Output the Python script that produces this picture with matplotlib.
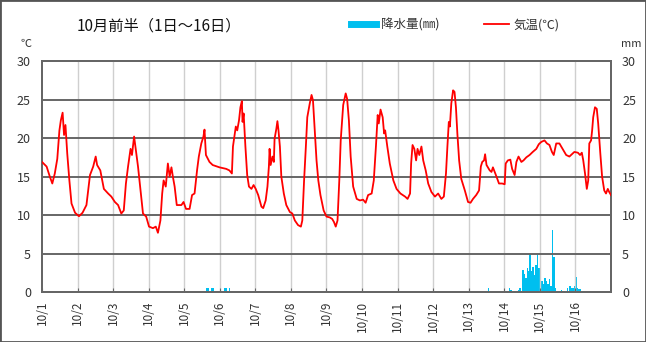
"""Hourly temperature and precipitation, first half of October."""
import matplotlib
matplotlib.use("Agg")
import matplotlib.pyplot as plt
from matplotlib.lines import Line2D
from matplotlib.patches import Rectangle

plt.rcParams["font.family"] = ["Noto Sans CJK JP", "DejaVu Sans"]

# temperature (day offset from 10/1 0:00, degC)
temp_day = [
    0.00, 0.13, 0.22, 0.29, 0.36, 0.43, 0.49, 0.53, 0.58, 0.62, 0.66, 0.71, 0.77, 0.83, 0.93,
    1.04, 1.14, 1.25, 1.35, 1.44, 1.51, 1.55, 1.64, 1.74, 1.86, 1.95,
    2.05, 2.14, 2.23, 2.30, 2.36, 2.42, 2.49, 2.53, 2.59, 2.64, 2.70, 2.77, 2.84, 2.93,
    3.01, 3.12, 3.20, 3.26, 3.33, 3.38, 3.42, 3.48, 3.54, 3.59, 3.64, 3.68, 3.73, 3.79, 3.92, 3.98,
    4.05, 4.15, 4.22, 4.29, 4.36, 4.41, 4.48, 4.54, 4.57, 4.61, 4.71, 4.80, 4.99,
    5.18, 5.27, 5.34, 5.37, 5.45, 5.49, 5.54, 5.58, 5.62, 5.64, 5.67, 5.72, 5.77, 5.82, 5.89, 5.95,
    6.01, 6.08, 6.17, 6.22, 6.29, 6.34, 6.38, 6.40, 6.43, 6.48, 6.52, 6.54, 6.59, 6.62, 6.65, 6.69,
    6.73, 6.80, 6.87, 6.97,
    7.04, 7.11, 7.20, 7.28, 7.32, 7.37, 7.42, 7.46, 7.53, 7.58, 7.62, 7.67, 7.72, 7.77, 7.83, 7.92,
    8.00, 8.09, 8.16, 8.21, 8.26, 8.31, 8.36, 8.40, 8.47, 8.54, 8.58, 8.63, 8.68, 8.75, 8.85, 8.94,
    9.03, 9.10, 9.17, 9.27, 9.33, 9.39, 9.44, 9.47, 9.52, 9.58, 9.62, 9.65, 9.71, 9.78, 9.88, 9.97,
    10.08, 10.21, 10.28, 10.35, 10.38, 10.42, 10.47, 10.52, 10.56, 10.61, 10.67, 10.72, 10.79,
    10.86, 10.95,
    11.05, 11.14, 11.23, 11.30, 11.36, 11.40, 11.44, 11.47, 11.51, 11.56, 11.60, 11.64, 11.68,
    11.73, 11.79, 11.89, 11.98,
    12.05, 12.12, 12.21, 12.29, 12.34, 12.38, 12.43, 12.46, 12.50, 12.59, 12.64, 12.68, 12.78,
    12.85, 12.94,
    13.01, 13.04, 13.10, 13.17, 13.22, 13.29, 13.34, 13.40, 13.48, 13.54, 13.62, 13.71, 13.80,
    13.90, 13.97,
    14.04, 14.13, 14.20, 14.27, 14.34, 14.39, 14.46, 14.55, 14.64, 14.74, 14.83, 14.97,
    15.07, 15.13, 15.18, 15.22, 15.27, 15.32, 15.36, 15.39, 15.44, 15.47, 15.50, 15.55, 15.60,
    15.64, 15.70, 15.75, 15.81, 15.86, 15.91, 15.95, 16.00,
]
temp_c = [
    16.9, 16.3, 15.0, 14.1, 15.4, 17.3, 21.0, 22.3, 23.3, 20.4, 21.7, 18.0, 14.5, 11.5, 10.3,
    9.85, 10.3, 11.3, 15.2, 16.3, 17.6, 16.5, 15.8, 13.4, 12.8, 12.4,
    11.7, 11.3, 10.2, 10.6, 14.1, 16.3, 18.6, 17.8, 20.2, 18.4, 16.3, 13.2, 10.2, 9.8,
    8.5, 8.3, 8.5, 7.7, 9.3, 12.8, 14.5, 13.7, 16.7, 15.0, 16.2, 15.0, 13.7, 11.3, 11.3, 11.7,
    10.8, 10.8, 12.6, 12.8, 15.8, 17.6, 19.3, 20.2, 21.1, 17.8, 16.9, 16.5, 16.2,
    16.0, 15.8, 15.4, 18.9, 21.5, 21.0, 22.3, 24.0, 24.8, 22.1, 23.2, 18.9, 15.2, 13.7, 13.4, 13.9,
    13.4, 12.6, 11.1, 10.9, 11.9, 13.7, 16.3, 18.6, 16.5, 17.6, 16.9, 19.9, 21.2, 22.2, 21.0, 18.9,
    15.0, 12.8, 11.3, 10.4,
    10.2, 9.3, 8.7, 8.5, 9.3, 14.5, 18.9, 22.7, 24.5, 25.6, 24.9, 21.0, 17.1, 14.5, 12.6, 10.6,
    9.8, 9.7, 9.5, 9.1, 8.5, 9.3, 14.5, 19.7, 24.3, 25.8, 25.1, 22.3, 17.6, 13.7, 12.1, 11.9,
    12.0, 11.6, 12.6, 12.8, 14.5, 18.9, 23.0, 21.9, 23.7, 22.7, 20.6, 21.0, 18.9, 16.7, 14.5, 13.4,
    12.8, 12.4, 12.1, 12.8, 16.7, 19.1, 18.6, 17.1, 18.6, 17.8, 18.9, 17.1, 15.8,
    14.1, 13.0,
    12.4, 12.8, 12.1, 12.4, 15.4, 18.9, 22.1, 21.5, 24.5, 26.2, 26.0, 24.0, 20.6,
    17.1, 14.7, 13.2, 11.7,
    11.6, 12.1, 12.6, 13.2, 16.3, 16.9, 17.1, 17.9, 16.5, 15.8, 15.6, 16.2, 15.0,
    14.1, 14.1,
    14.0, 16.7, 17.1, 17.2, 16.0, 15.2, 16.9, 17.6, 16.9, 17.1, 17.5, 17.8, 18.2,
    18.6, 19.2,
    19.5, 19.7, 19.3, 19.1, 18.2, 17.8, 19.3, 19.3, 18.6, 17.8, 17.6, 18.2,
    18.1, 17.8, 18.1, 17.1, 15.4, 13.4, 14.5, 19.3, 19.7, 21.0, 22.7, 24.0, 23.8,
    21.9, 18.0, 15.0, 13.2, 12.8, 13.4, 13.0, 12.6,
]

# precipitation (hour offset from 10/1 0:00, mm)
rain_hour = [
    111, 112, 114, 115, 123, 124, 126,
    301, 315, 316, 321, 322,
    324, 325, 326, 327, 328, 329, 330, 331, 332, 333, 334, 335, 336, 337, 338, 339, 340,
    341, 342, 343, 344, 345, 346,
    350, 354, 356, 357, 358, 359, 360, 361, 362, 363,
]
rain_mm = [
    0.5, 0.5, 0.5, 0.5, 0.5, 0.5, 0.5,
    0.5, 0.5, 0.3, 0.3, 0.5,
    2.9, 2.4, 1.8, 3.1, 2.7, 4.9, 2.7, 3.3, 2.2, 3.5, 4.9, 3.1, 6.5, 1.5, 1.0, 1.8, 1.5,
    1.0, 1.7, 0.8, 8.0, 4.5, 0.5,
    0.3, 0.5, 0.8, 0.5, 0.5, 0.8, 1.9, 0.5, 0.4, 0.4,
]

day_labels = [f"10/{d}" for d in range(1, 17)]
y_ticks = [0, 5, 10, 15, 20, 25, 30]

fig = plt.figure(figsize=(6.46, 3.42), dpi=100)
ax = fig.add_axes([0.065, 0.146, 0.8808, 0.6754])
ax2 = ax.twinx()

text_col = "#333333"
grid_dark = "#666666"

# rain on the right axis, drawn below temperature
rain_day = [h / 24 for h in rain_hour]
ax2.bar(rain_day, rain_mm, width=1 / 24, align="edge", color="#00bfef", linewidth=0, zorder=2)
ax2.set_ylim(0, 30)
ax2.set_yticks(y_ticks)
ax2.tick_params(axis="y", length=0, labelsize=9, labelcolor=text_col, pad=8)

ax.set_zorder(ax2.get_zorder() + 1)
ax.patch.set_visible(False)
ax.plot(temp_day, temp_c, color="#ff0000", linewidth=1.3, zorder=3)

ax.set_xlim(0, 16)
ax.set_ylim(0, 30)
ax.set_yticks(y_ticks)
ax.set_xticks(range(16))
ax.set_xticklabels(day_labels, rotation=90, fontsize=8.5, color=text_col)
ax.tick_params(axis="y", length=0, labelsize=9, labelcolor=text_col, pad=8)
ax.tick_params(axis="x", length=3, direction="in", color=grid_dark, pad=6)

for v in y_ticks[1:-1]:
    ax.axhline(v, color=grid_dark, linewidth=1.4, zorder=1)
for d in range(1, 16):
    ax.axvline(d, color="#cfcfcf", linewidth=1.0, zorder=0)

for a in (ax, ax2):
    for s in a.spines.values():
        s.set_color(grid_dark)
        s.set_linewidth(1.4)

fig.text(0.118, 0.925, "10月前半（1日～16日）", fontsize=11, color="#111111", va="center")
fig.text(0.04, 0.87, "℃", fontsize=8, color=text_col, ha="center", va="center")
fig.text(0.977, 0.87, "mm", fontsize=8, color=text_col, ha="center", va="center")

handles = [Line2D([], [], color="#00bfef", linewidth=5),
           Line2D([], [], color="#ff0000", linewidth=1.3)]
fig.legend(handles, ["降水量(㎜)", "気温(℃)"], loc="center", bbox_to_anchor=(0.705, 0.927),
           ncol=2, frameon=False, fontsize=9, handlelength=2.0, columnspacing=3.6,
           handletextpad=0.35, labelcolor=text_col)

fig.patches.append(Rectangle((0, 0), 1, 1, transform=fig.transFigure, fill=False,
                             edgecolor="#555555", linewidth=2))

fig.savefig("out.png", dpi=100)
